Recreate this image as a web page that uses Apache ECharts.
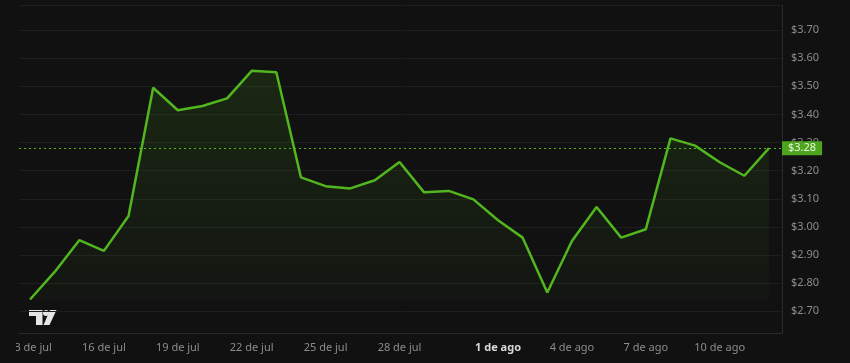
<!DOCTYPE html>
<html>
<head>
<meta charset="utf-8">
<script src="https://cdn.jsdelivr.net/npm/echarts@6/dist/echarts.min.js"></script>
<style>
  html, body { margin: 0; padding: 0; background: #111111; }
  #clip { position: absolute; left: 16px; top: 0; width: 834px; height: 363px; overflow: hidden; }
  #chart { position: absolute; left: -16px; top: 0; width: 850px; height: 363px; }
</style>
</head>
<body>
<div id="clip"><div id="chart"></div></div>
<script>
// Daily dates, 13 jul -> 12 ago
const days = ['13 jul','14 jul','15 jul','16 jul','17 jul','18 jul','19 jul','20 jul','21 jul','22 jul','23 jul','24 jul','25 jul','26 jul','27 jul','28 jul','29 jul','30 jul','31 jul','1 ago','2 ago','3 ago','4 ago','5 ago','6 ago','7 ago','8 ago','9 ago','10 ago','11 ago','12 ago'];
const prices = [2.742, 2.84, 2.953, 2.915, 3.039, 3.495, 3.415, 3.43, 3.457, 3.555, 3.55, 3.176, 3.145, 3.137, 3.166, 3.231, 3.123, 3.128, 3.098, 3.024, 2.962, 2.767, 2.95, 3.071, 2.962, 2.992, 3.315, 3.289, 3.23, 3.182, 3.28];
const xTickIdx = [0, 3, 6, 9, 12, 15, 19, 22, 25, 28];
const xTickLabels = ['13 de jul','16 de jul','19 de jul','22 de jul','25 de jul','28 de jul','1 de ago','4 de ago','7 de ago','10 de ago'];
const boldTick = '1 de ago';
const lastPrice = 3.28;

const green = '#52b61f';
const seriesData = prices.map((v, i) => [i, v]);

const chart = echarts.init(document.getElementById('chart'), null, { renderer: 'canvas' });
const fontFamily = '"Noto Sans", "DejaVu Sans", sans-serif';

chart.setOption({
  backgroundColor: '#111111',
  animation: false,
  grid: { left: 19, right: 68, top: 5, bottom: 30, containLabel: false },
  xAxis: {
    type: 'value',
    min: -0.447,
    max: 30.528,
    axisLine: { show: true, onZero: false, lineStyle: { color: '#2a2a2a', width: 1 } },
    axisTick: { show: false },
    splitLine: { show: false },
    axisLabel: {
      customValues: xTickIdx,
      margin: 9,
      color: '#8c8c8c',
      fontSize: 11,
      fontFamily: fontFamily,
      formatter: function (v) {
        const k = xTickIdx.indexOf(Math.round(v));
        const t = k >= 0 ? xTickLabels[k] : '';
        return t === boldTick ? '{b|' + t + '}' : t;
      },
      rich: { b: { color: '#d8d8d8', fontWeight: 'bold', fontSize: 11, fontFamily: fontFamily } }
    }
  },
  yAxis: {
    type: 'value',
    position: 'right',
    min: 2.623,
    max: 3.789,
    splitNumber: 12,
    axisLine: { show: true, onZero: false, lineStyle: { color: '#2a2a2a', width: 1 } },
    axisTick: { show: false },
    splitLine: { show: true, lineStyle: { color: '#1e1e1e', width: 1 } },
    axisLabel: {
      showMinLabel: false,
      showMaxLabel: false,
      margin: 9,
      color: '#8c8c8c',
      fontSize: 11,
      fontFamily: fontFamily,
      formatter: function (v) { return '$' + v.toFixed(2); }
    }
  },
  series: [{
    type: 'line',
    data: seriesData,
    symbol: 'none',
    lineStyle: { color: green, width: 2.5 },
    areaStyle: {
      origin: 2.74,
      color: new echarts.graphic.LinearGradient(0, 0, 0, 1, [
        { offset: 0, color: 'rgba(82,182,31,0.20)' },
        { offset: 1, color: 'rgba(82,182,31,0.04)' }
      ])
    },
    markLine: {
      silent: true,
      symbol: 'none',
      data: [{ yAxis: lastPrice }],
      lineStyle: { color: green, type: [2, 3], width: 1 },
      label: {
        show: true,
        position: 'end',
        distance: 0,
        formatter: function (p) { return '$' + p.value.toFixed(2); },
        backgroundColor: '#4ca51c',
        color: '#e8f5df',
        fontSize: 11,
        fontFamily: fontFamily,
        padding: [2, 6, 1, 6]
      }
    }
  }],
  graphic: [{
    type: 'group',
    left: 29,
    top: 310,
    z: 100,
    children: [
      { type: 'polygon', shape: { points: [[0,0],[13.5,0],[13.5,15],[7,15],[7,6],[0,6]] }, style: { fill: '#e6e6e6' } },
      { type: 'circle', shape: { cx: 17, cy: 3, r: 3 }, style: { fill: '#e6e6e6' } },
      { type: 'polygon', shape: { points: [[21,0],[27.5,0],[20.5,15],[14.5,15]] }, style: { fill: '#e6e6e6' } }
    ]
  }]
});
</script>
</body>
</html>
